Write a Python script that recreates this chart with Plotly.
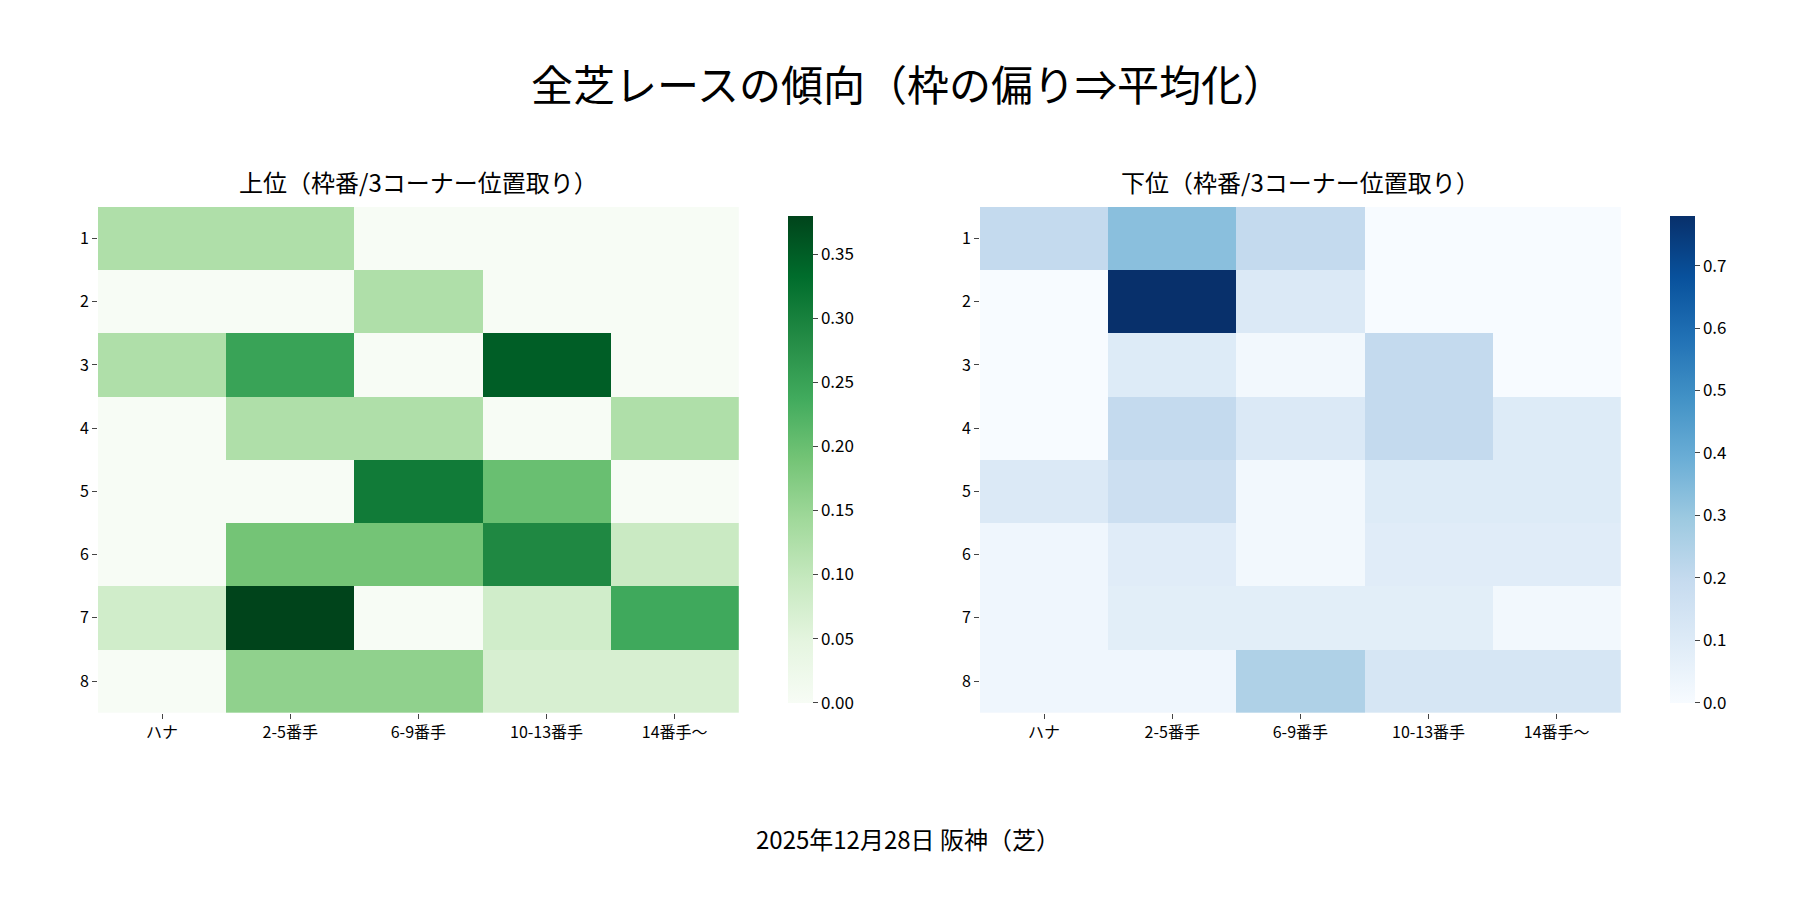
import plotly.graph_objects as go

cols = ["ハナ", "2-5番手", "6-9番手", "10-13番手", "14番手〜"]
rows = ["1", "2", "3", "4", "5", "6", "7", "8"]

upper = [
    [0.125, 0.125, 0, 0, 0],
    [0, 0, 0.125, 0, 0],
    [0.125, 0.25, 0, 0.35, 0],
    [0, 0.125, 0.125, 0, 0.125],
    [0, 0, 0.31, 0.2, 0],
    [0, 0.19, 0.19, 0.29, 0.09],
    [0.08, 0.38, 0, 0.08, 0.24],
    [0, 0.16, 0.16, 0.07, 0.07],
]
lower = [
    [0.2, 0.33, 0.2, 0, 0],
    [0, 0.78, 0.11, 0, 0],
    [0, 0.1, 0.02, 0.2, 0],
    [0, 0.2, 0.11, 0.2, 0.1],
    [0.11, 0.17, 0.02, 0.1, 0.1],
    [0.03, 0.09, 0.02, 0.09, 0.09],
    [0.03, 0.08, 0.08, 0.08, 0.02],
    [0.03, 0.03, 0.25, 0.13, 0.13],
]

font = "Noto Sans CJK JP"
fig = go.Figure()
fig.add_trace(go.Heatmap(z=upper, x=cols, y=rows, colorscale="Greens", zmin=0, zmax=0.38,
                         xaxis="x", yaxis="y",
                         colorbar=dict(x=0.428, xanchor="left", y=0.217, yanchor="bottom", len=0.563,
                                       thickness=25, outlinewidth=0, ticks="outside", dtick=0.05,
                                       tickformat=".2f", tickfont=dict(size=17))))
fig.add_trace(go.Heatmap(z=lower, x=cols, y=rows, colorscale="Blues", zmin=0, zmax=0.78,
                         xaxis="x2", yaxis="y2",
                         colorbar=dict(x=0.918, xanchor="left", y=0.217, yanchor="bottom", len=0.563,
                                       thickness=25, outlinewidth=0, ticks="outside", dtick=0.1,
                                       tickformat=".1f", tickfont=dict(size=17))))

ax = dict(showgrid=False, zeroline=False, ticks="outside", ticklen=5, tickfont=dict(size=16))
fig.update_layout(
    width=1800, height=900, plot_bgcolor="white", paper_bgcolor="white",
    font=dict(family=font, color="black"),
    margin=dict(l=0, r=0, t=0, b=0),
    xaxis=dict(domain=[0.05, 0.406], **ax),
    yaxis=dict(domain=[0.217, 0.779], autorange="reversed", anchor="x", **ax),
    xaxis2=dict(domain=[0.54, 0.896], anchor="y2", **ax),
    yaxis2=dict(domain=[0.217, 0.779], autorange="reversed", anchor="x2", **ax),
    annotations=[
        dict(text="全芝レースの傾向（枠の偏り⇒平均化）", x=0.5, y=0.917, xref="paper", yref="paper",
             xanchor="center", yanchor="middle", showarrow=False, font=dict(size=42)),
        dict(text="上位（枠番/3コーナー位置取り）", x=0.228, y=0.785, xref="paper", yref="paper",
             xanchor="center", yanchor="bottom", showarrow=False, font=dict(size=24)),
        dict(text="下位（枠番/3コーナー位置取り）", x=0.718, y=0.785, xref="paper", yref="paper",
             xanchor="center", yanchor="bottom", showarrow=False, font=dict(size=24)),
        dict(text="2025年12月28日 阪神（芝）", x=0.5, y=0.077, xref="paper", yref="paper",
             xanchor="center", yanchor="middle", showarrow=False, font=dict(size=24)),
    ],
)
fig.write_html("out.html")
